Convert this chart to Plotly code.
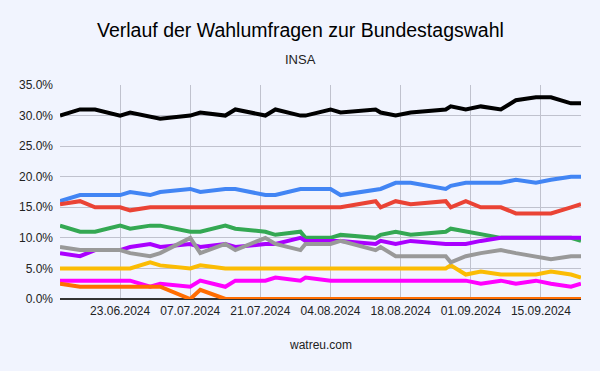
import plotly.graph_objects as go

dates = ["2024-06-11", "2024-06-15", "2024-06-18", "2024-06-23", "2024-06-25", "2024-06-29",
         "2024-07-01", "2024-07-07", "2024-07-09", "2024-07-14", "2024-07-16", "2024-07-22",
         "2024-07-24", "2024-07-29", "2024-07-30", "2024-08-04", "2024-08-06", "2024-08-13",
         "2024-08-14", "2024-08-17", "2024-08-20", "2024-08-27", "2024-08-28", "2024-08-31",
         "2024-09-03", "2024-09-07", "2024-09-10", "2024-09-14", "2024-09-17", "2024-09-21",
         "2024-09-23"]

cdu = [30, 31, 31, 30, 30.5, 29.8, 29.5, 30, 30.5, 30, 31, 30, 31, 30, 30, 31, 30.5, 31,
       30.5, 30, 30.5, 31, 31.5, 31, 31.5, 31, 32.5, 33, 33, 32, 32]
afd = [16, 17, 17, 17, 17.5, 17, 17.5, 18, 17.5, 18, 18, 17, 17, 18, 18, 18, 17, 17.9,
       18, 19, 19, 18, 18.5, 19, 19, 19, 19.5, 19, 19.5, 20, 20]
spd = [15.5, 16, 15, 15, 14.5, 15, 15, 15, 15, 15, 15, 15, 15, 15, 15, 15, 15, 16,
       15, 16, 15.5, 16, 15, 16, 15, 15, 14, 14, 14, 15, 15.5]
gruene = [12, 11, 11, 12, 11.5, 12, 12, 11, 11, 12, 11.5, 11, 10.5, 11, 10, 10, 10.5, 10,
          10.5, 11, 10.5, 11, 11.5, 11, 10.5, 10, 10, 10, 10, 10, 9.5]
bsw = [7.5, 7, 8, 8, 8.5, 9, 8.5, 9, 8.5, 9, 8.5, 9, 9, 10, 9.5, 9.5, 9.5, 9,
       9.5, 9, 9.5, 9, 9, 9, 9.5, 10, 10, 10, 10, 10, 10]
fdp = [5, 5, 5, 5, 5, 6, 5.5, 5, 5.5, 5, 5, 5, 5, 5, 5, 5, 5, 5,
       5, 5, 5, 5, 5.5, 4, 4.5, 4, 4, 4, 4.5, 4, 3.5]
linke = [3, 3, 3, 3, 3, 2, 2.5, 2, 3, 2, 3, 3, 3.5, 3, 3.5, 3, 3, 3,
         3, 3, 3, 3, 3, 3, 2.5, 3, 2.5, 3, 2.5, 2, 2.5]
fw = [2.5, 2, 2, 2, 2, 2, 2, 0, 1.5, 0, 0, 0, 0, 0, 0, 0, 0, 0,
      0, 0, 0, 0, 0, 0, 0, 0, 0, 0, 0, 0, 0]
sonstige = [8.5, 8, 8, 8, 7.5, 7, 7.5, 10, 7.5, 9, 8, 10, 9, 8, 9, 9, 9.5, 8,
            8.5, 7, 7, 7, 6, 7, 7.5, 8, 7.5, 7, 6.5, 7, 7]

series = [
    ("CDU/CSU", cdu, "#000000"),
    ("AfD", afd, "#4285F4"),
    ("SPD", spd, "#EA4335"),
    ("Grüne", gruene, "#34A853"),
    ("BSW", bsw, "#AA00FF"),
    ("FDP", fdp, "#FBBC04"),
    ("Linke", linke, "#FF00FF"),
    ("Freie Wähler", fw, "#FF6D01"),
    ("Sonstige", sonstige, "#999999"),
]

tick_dates = ["2024-06-23", "2024-07-07", "2024-07-21", "2024-08-04",
              "2024-08-18", "2024-09-01", "2024-09-15"]
y_ticks = [0, 5, 10, 15, 20, 25, 30, 35]

fig = go.Figure()
for name, vals, color in series:
    fig.add_trace(go.Scatter(x=dates, y=vals, mode="lines", name=name,
                             line=dict(color=color, width=4)))

bg = "#F1F4FE"
grid = "#C0C2CE"
fig.update_layout(
    width=600, height=371,
    paper_bgcolor=bg, plot_bgcolor=bg,
    margin=dict(l=60, r=19, t=85, b=72),
    showlegend=False,
    font=dict(family="Liberation Sans, Arial, sans-serif", size=12, color="#222222"),
)
fig.update_xaxes(
    range=[dates[0], dates[-1]],
    tickvals=tick_dates, tickformat="%d.%m.%Y",
    showgrid=True, gridcolor=grid, gridwidth=1,
    zeroline=False, showline=False, ticks="", ticklabelstandoff=3,
    tickfont=dict(size=12, color="#222222"),
)
fig.update_yaxes(
    range=[0, 35], tickvals=y_ticks,
    ticktext=[f"{v:.1f}%" for v in y_ticks],
    showgrid=True, gridcolor=grid, gridwidth=1,
    zeroline=True, zerolinecolor="#333333", zerolinewidth=1.5,
    showline=False, ticks="", ticklabelstandoff=6,
    tickfont=dict(size=12, color="#222222"),
)
fig.add_annotation(text="Verlauf der Wahlumfragen zur Bundestagswahl", xref="paper", yref="paper",
                   x=(300 - 60) / 521, y=(299 - 30) / 214, showarrow=False,
                   xanchor="center", yanchor="middle",
                   font=dict(size=19.5, color="#000000"))
fig.add_annotation(text="INSA", xref="paper", yref="paper",
                   x=(300 - 60) / 521, y=(299 - 59) / 214, showarrow=False,
                   xanchor="center", yanchor="middle", font=dict(size=13, color="#222222"))
fig.add_annotation(text="watreu.com", xref="paper", yref="paper",
                   x=0.5, y=(299 - 345) / 214, showarrow=False,
                   xanchor="center", yanchor="middle", font=dict(size=12, color="#222222"))

fig.write_html("out.html", config={"displayModeBar": False},
               post_script="document.body.style.margin='0';document.body.style.background='" + bg + "';")
